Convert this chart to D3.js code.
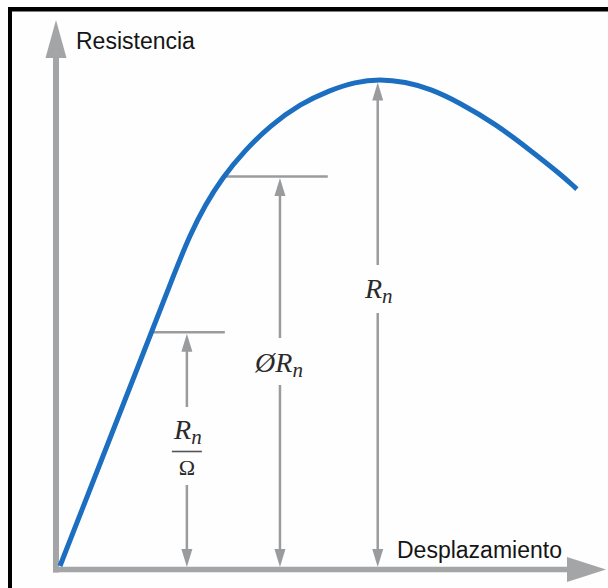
<!DOCTYPE html>
<html>
<head>
<meta charset="utf-8">
<script src="https://cdn.jsdelivr.net/npm/d3@7"></script>
<style>
  html, body { margin: 0; padding: 0; background: #fefefe; }
  svg { display: block; }
</style>
</head>
<body>
<svg id="chart" width="608" height="588"></svg>
<script>
// Resistance–displacement curve (arbitrary units, peak resistance = 100)
const displacement = [0, 17.3, 22.1, 25.0, 27.9, 31.2, 35.6, 40.4, 46.2, 51.9, 56.7, 61.5, 66.4, 71.2, 76.9, 83.7, 90.4, 96.2, 99.4];
const resistance   = [0, 47.2, 60.4, 68.0, 74.1, 79.7, 85.4, 90.4, 94.9, 97.7, 99.4, 100, 99.4, 98.0, 95.1, 90.8, 85.4, 80.5, 77.4];

// Strength levels marked on the diagram
const levelNames  = ["Rn/Ω", "ØRn", "Rn"];
const levelValues = [48, 80, 100];
// Displacement at which each dimension arrow is drawn, and where its reference line ends
const arrowAt     = [24.4, 42.3, 61.1];
const refLineEnd  = [31.7, 51.5, null];

const axisLabels = { y: "Resistencia", x: "Desplazamiento" };

const svg = d3.select("#chart");
const W = 608, H = 588;

const x = d3.scaleLinear().domain([0, 100]).range([60, 580]);
const y = d3.scaleLinear().domain([0, 100]).range([566, 79]);

const axisGray = "#a4a5a7";
const dimGray = "#9a9b9d";
const blue = "#1b6ec0";

// frame
svg.append("rect").attr("x", 0).attr("y", 0).attr("width", W).attr("height", H).attr("fill", "#fefefe");
svg.append("rect").attr("x", 8).attr("y", 7).attr("width", W - 8).attr("height", 4.5).attr("fill", "#000");
svg.append("rect").attr("x", 8).attr("y", 7).attr("width", 4).attr("height", H - 7).attr("fill", "#000");

// axes: thick gray shafts with triangular heads
const ax0 = x(0) - 4, ay0 = y(0) + 3.5;
svg.append("line").attr("x1", ax0).attr("x2", ax0).attr("y1", ay0 + 3).attr("y2", 55)
  .attr("stroke", axisGray).attr("stroke-width", 6);
svg.append("path").attr("d", `M${ax0},20 L${ax0 - 10.5},58 L${ax0 + 10.5},58 Z`).attr("fill", axisGray);
svg.append("line").attr("x1", ax0 - 3).attr("x2", 570).attr("y1", ay0).attr("y2", ay0)
  .attr("stroke", axisGray).attr("stroke-width", 5.5);
svg.append("path").attr("d", `M606,${ay0} L567,${ay0 - 12.5} L567,${ay0 + 12.5} Z`).attr("fill", axisGray);

svg.append("text").attr("x", 76).attr("y", 49).text(axisLabels.y)
  .attr("font-family", "Liberation Sans, Arial, sans-serif").attr("font-size", 23).attr("fill", "#151515");
svg.append("text").attr("x", 397).attr("y", 558).text(axisLabels.x)
  .attr("font-family", "Liberation Sans, Arial, sans-serif").attr("font-size", 23).attr("fill", "#151515");

// displacement where the curve first reaches a given resistance
function reachAt(level) {
  for (let i = 1; i < resistance.length; i++) {
    if (resistance[i] >= level) {
      const t = (level - resistance[i - 1]) / (resistance[i] - resistance[i - 1]);
      return displacement[i - 1] + t * (displacement[i] - displacement[i - 1]);
    }
  }
  return displacement[displacement.length - 1];
}

// dimension arrows
const labelGap = [[407, 485], [338, 385], [265, 313]];
const arrowHead = (cx, tipY, dir) =>
  `M${cx},${tipY} L${cx - 5.5},${tipY + dir * 18} L${cx + 5.5},${tipY + dir * 18} Z`;

levelValues.forEach((v, i) => {
  const cx = x(arrowAt[i]);
  const topTip = y(v) + (refLineEnd[i] === null ? 3.5 : 1.5);
  const botTip = y(0) + 1;
  if (refLineEnd[i] !== null) {
    svg.append("line").attr("x1", x(reachAt(v)) - 1).attr("x2", x(refLineEnd[i]))
      .attr("y1", y(v)).attr("y2", y(v)).attr("stroke", dimGray).attr("stroke-width", 2.5);
  }
  const [g0, g1] = labelGap[i];
  svg.append("line").attr("x1", cx).attr("x2", cx).attr("y1", topTip + 10).attr("y2", g0)
    .attr("stroke", dimGray).attr("stroke-width", 2.5);
  svg.append("line").attr("x1", cx).attr("x2", cx).attr("y1", g1).attr("y2", botTip - 10)
    .attr("stroke", dimGray).attr("stroke-width", 2.5);
  svg.append("path").attr("d", arrowHead(cx, topTip, 1)).attr("fill", dimGray);
  svg.append("path").attr("d", arrowHead(cx, botTip, -1)).attr("fill", dimGray);
});

// labels
const serif = "Liberation Serif, Times New Roman, serif";
function rn(g, cx, baseY, prefix) {
  const t = g.append("text").attr("x", cx).attr("y", baseY).attr("text-anchor", "middle")
    .attr("font-family", serif).attr("font-style", "italic").attr("font-size", 28).attr("fill", "#2a2a2a");
  if (prefix) t.append("tspan").text(prefix);
  t.append("tspan").text("R");
  t.append("tspan").attr("font-size", 21).attr("dy", 5).text("n");
  return t;
}
const lbl = svg.append("g");
rn(lbl, x(arrowAt[2]) + 1, 298, null);
rn(lbl, x(arrowAt[1]) - 1, 372, "Ø");
rn(lbl, x(arrowAt[0]) + 1, 439, null);
lbl.append("line").attr("x1", x(arrowAt[0]) - 15).attr("x2", x(arrowAt[0]) + 15)
  .attr("y1", 451.5).attr("y2", 451.5).attr("stroke", "#555").attr("stroke-width", 1.6);
lbl.append("text").attr("x", x(arrowAt[0])).attr("y", 475).attr("text-anchor", "middle")
  .attr("font-family", serif).attr("font-size", 22).attr("fill", "#2a2a2a").text("Ω");

// resistance curve
const line = d3.line().x((d, i) => x(displacement[i])).y(d => y(d)).curve(d3.curveBasis);
svg.append("path").datum(resistance).attr("d", line)
  .attr("fill", "none").attr("stroke", blue).attr("stroke-width", 5).attr("stroke-linecap", "butt");
</script>
</body>
</html>
